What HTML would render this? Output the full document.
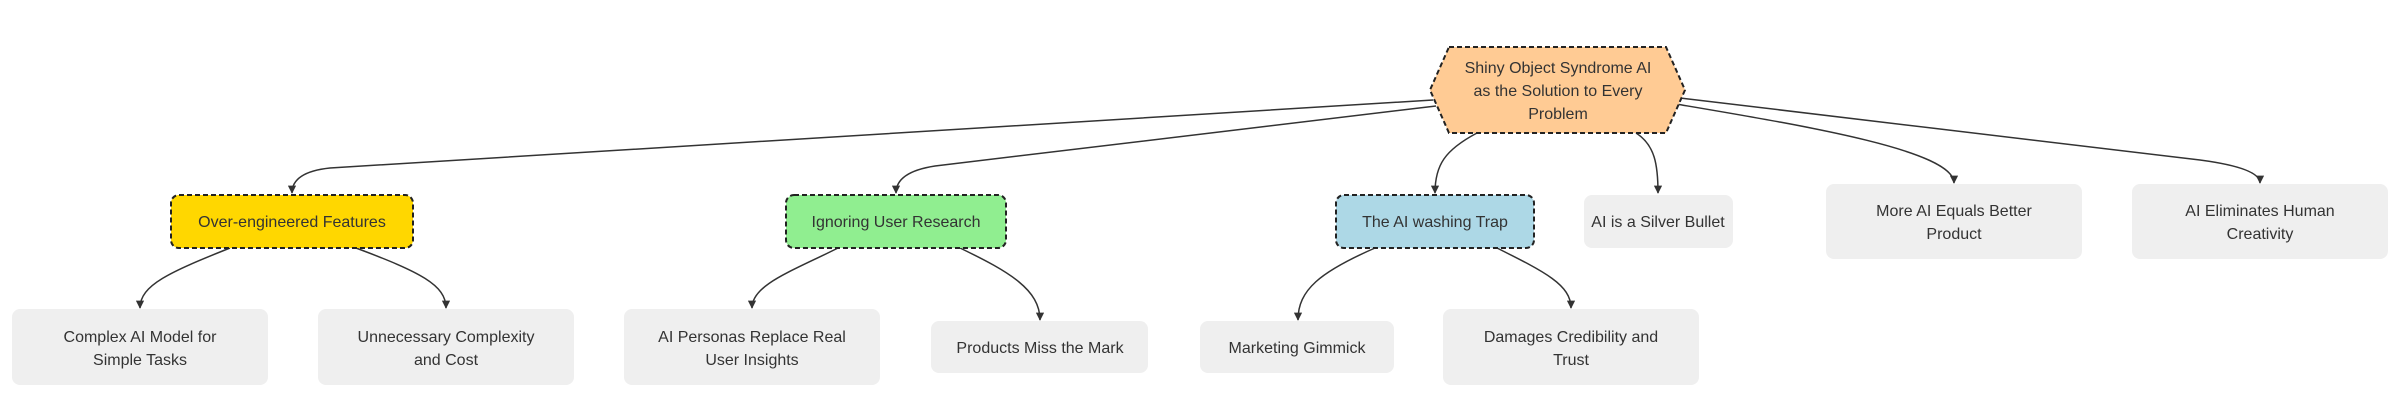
<!DOCTYPE html>
<html><head><meta charset="utf-8"><style>
html,body{margin:0;padding:0;background:#fff;}
svg{display:block;}
text{font-family:"Liberation Sans",sans-serif;font-size:16px;fill:#333;text-anchor:middle;}
.e{fill:none;stroke:#333;stroke-width:1.5;}
.d{stroke:#222;stroke-width:2;stroke-dasharray:5 3;}
.g{fill:#efefef;}
</style></head><body>
<svg width="2400" height="410" viewBox="0 0 2400 410" xmlns="http://www.w3.org/2000/svg">
<defs><marker id="a" viewBox="0 0 10 10" refX="9" refY="5" markerWidth="5.5" markerHeight="5.5" orient="auto"><path d="M0,0L10,5L0,10z" fill="#333"/></marker></defs>
<path class="e" marker-end="url(#a)" d="M1433,100 L330,168 Q292,172 292,193"/>
<path class="e" marker-end="url(#a)" d="M1436,106 L935,166 Q896,172 896,193"/>
<path class="e" marker-end="url(#a)" d="M1477,133 C1445,150 1435,165 1435,193"/>
<path class="e" marker-end="url(#a)" d="M1636,133 C1655,145 1658,165 1658,193"/>
<path class="e" marker-end="url(#a)" d="M1676,104 C1800,125 1954,150 1954,183"/>
<path class="e" marker-end="url(#a)" d="M1680,98 L2200,160 Q2260,168 2260,183"/>
<path class="e" marker-end="url(#a)" d="M230,248 C170,272 140,285 140,308"/>
<path class="e" marker-end="url(#a)" d="M356,248 C420,272 446,285 446,308"/>
<path class="e" marker-end="url(#a)" d="M838,248 C790,272 752,285 752,308"/>
<path class="e" marker-end="url(#a)" d="M960,248 C1010,272 1040,290 1040,320"/>
<path class="e" marker-end="url(#a)" d="M1375,248 C1320,272 1298,290 1298,320"/>
<path class="e" marker-end="url(#a)" d="M1497,248 C1545,272 1571,285 1571,308"/>
<polygon class="d" fill="#ffcb94" points="1449,47 1666,47 1685,90 1666,133 1449,133 1430,90"/>
<text x="1558" y="73">Shiny Object Syndrome AI</text>
<text x="1558" y="96">as the Solution to Every</text>
<text x="1558" y="119">Problem</text>
<rect class="d" fill="#ffd700" x="171" y="195" width="242" height="53" rx="8"/>
<text x="292" y="227">Over-engineered Features</text>
<rect class="d" fill="#90ee90" x="786" y="195" width="220" height="53" rx="8"/>
<text x="896" y="227">Ignoring User Research</text>
<rect class="d" fill="#add8e6" x="1336" y="195" width="198" height="53" rx="8"/>
<text x="1435" y="227">The AI washing Trap</text>
<rect class="g" x="1584" y="195" width="149" height="53" rx="8"/>
<text x="1658" y="227">AI is a Silver Bullet</text>
<rect class="g" x="1826" y="184" width="256" height="75" rx="8"/>
<text x="1954" y="216">More AI Equals Better</text>
<text x="1954" y="239">Product</text>
<rect class="g" x="2132" y="184" width="256" height="75" rx="8"/>
<text x="2260" y="216">AI Eliminates Human</text>
<text x="2260" y="239">Creativity</text>
<rect class="g" x="12" y="309" width="256" height="76" rx="8"/>
<text x="140" y="342">Complex AI Model for</text>
<text x="140" y="365">Simple Tasks</text>
<rect class="g" x="318" y="309" width="256" height="76" rx="8"/>
<text x="446" y="342">Unnecessary Complexity</text>
<text x="446" y="365">and Cost</text>
<rect class="g" x="624" y="309" width="256" height="76" rx="8"/>
<text x="752" y="342">AI Personas Replace Real</text>
<text x="752" y="365">User Insights</text>
<rect class="g" x="931" y="321" width="217" height="52" rx="8"/>
<text x="1040" y="353">Products Miss the Mark</text>
<rect class="g" x="1200" y="321" width="194" height="52" rx="8"/>
<text x="1297" y="353">Marketing Gimmick</text>
<rect class="g" x="1443" y="309" width="256" height="76" rx="8"/>
<text x="1571" y="342">Damages Credibility and</text>
<text x="1571" y="365">Trust</text>
</svg>
</body></html>
